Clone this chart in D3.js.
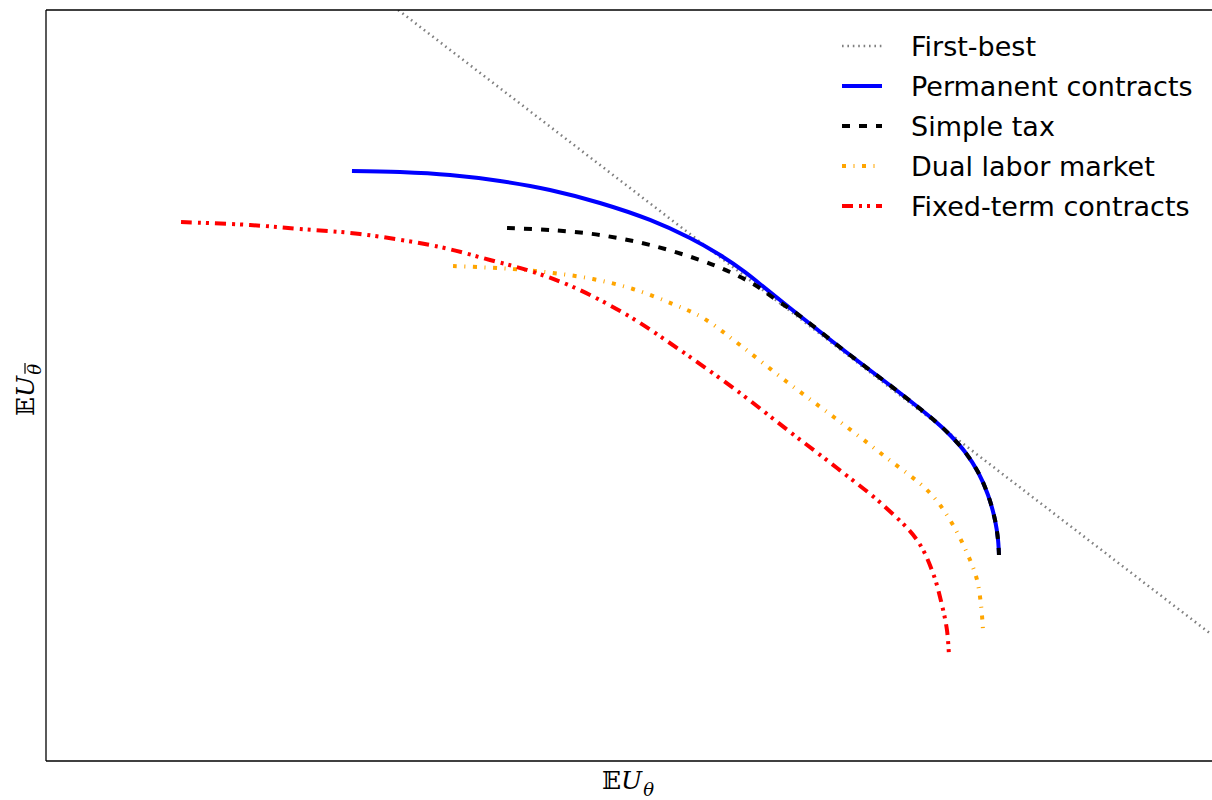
<!DOCTYPE html>
<html>
<head>
<meta charset="utf-8">
<script src="https://cdn.jsdelivr.net/npm/d3@7"></script>
<style>
  body { margin: 0; background: #fff; }
  svg { display: block; }
</style>
</head>
<body>
<svg id="svg"></svg>
<script>
// curves, in axis units (0-100 on both axes)
var firstBest = [[30.2, 100], [100, 16.8]];

var permanent = [[26.24,78.56],[30.36,78.43],[34.65,78.03],[38.94,77.23],[43.22,76.03],
  [47.51,74.30],[51.80,72.04],[55.23,69.64],[57.80,67.38],[59.95,65.11],[61.23,63.52],
  [64.67,59.25],[68.95,54.06],[73.24,49.00],[76.24,45.27],[77.53,43.41],[78.82,41.15],
  [79.93,38.48],[80.79,35.42],[81.39,32.09],[81.65,29.43],[81.73,27.43]];

var simpleTax = [[39.54,70.97],[43.22,70.71],[47.51,70.04],[51.80,68.71],[56.09,66.71],
  [58.66,65.11],[60.81,63.38],[62.52,61.52],[64.67,59.25],[68.95,54.06],[73.24,49.00],
  [76.24,45.27],[77.53,43.41],[78.82,41.15],[79.93,38.48],[80.79,35.42],[81.39,32.09],
  [81.65,29.43],[81.73,27.43]];

var dualMarket = [[34.91,65.91],[40.05,65.51],[43.48,64.98],[46.91,64.18],[50.34,62.85],
  [53.77,60.85],[56.35,58.99],[59.52,55.39],[63.55,50.47],[67.67,45.67],[71.78,40.75],
  [75.81,35.69],[77.79,31.42],[79.25,26.76],[79.85,24.10],[80.19,20.77],[80.36,17.44]];

var fixedTerm = [[11.58,71.77],[17.50,71.37],[21.78,70.84],[26.93,70.17],[33.79,68.44],
  [38.08,66.71],[41.51,65.25],[45.20,63.12],[49.83,59.39],[54.37,54.73],[59.52,49.00],
  [63.81,43.81],[67.84,39.01],[71.78,34.09],[74.70,29.43],[76.07,25.03],[76.84,20.77],
  [77.27,17.44],[77.44,14.11]];

var labels = ["First-best", "Permanent contracts", "Simple tax", "Dual labor market", "Fixed-term contracts"];

var width = 1212, height = 800;
var margin = {left: 46, top: 10, right: 0, bottom: 39};

var series = [
  {name: labels[0], data: firstBest, color: "#808080", w: 2.6, dash: "1.6,3.8", curve: d3.curveLinear},
  {name: labels[1], data: permanent, color: "#0000ff", w: 4, dash: null, curve: d3.curveCatmullRom},
  {name: labels[2], data: simpleTax, color: "#000000", w: 4, dash: "8,9", curve: d3.curveCatmullRom},
  {name: labels[3], data: dualMarket, color: "#ffa500", w: 4, dash: "4,7.5,1,7.5", curve: d3.curveCatmullRom},
  {name: labels[4], data: fixedTerm, color: "#ff0000", w: 4, dash: "11,6,3,5,3,6", curve: d3.curveCatmullRom}
];

var svg = d3.select("#svg")
  .attr("width", width)
  .attr("height", height);

var x = d3.scaleLinear().domain([0, 100]).range([margin.left, width - margin.right]);
var y = d3.scaleLinear().domain([0, 100]).range([height - margin.bottom, margin.top]);

svg.append("defs").append("clipPath")
  .attr("id", "plotclip")
  .append("rect")
  .attr("x", x(0)).attr("y", y(100))
  .attr("width", x(100) - x(0)).attr("height", y(0) - y(100));

var plot = svg.append("g").attr("clip-path", "url(#plotclip)");

series.forEach(function(s){
  var line = d3.line()
    .x(d => x(d[0]))
    .y(d => y(d[1]))
    .curve(s.curve);
  plot.append("path")
    .datum(s.data)
    .attr("d", line)
    .attr("fill", "none")
    .attr("stroke", s.color)
    .attr("stroke-width", s.w)
    .attr("stroke-dasharray", s.dash)
    .attr("stroke-linejoin", "round");
});

// frame: left, top, bottom spines (right one is cut off in the picture)
var frame = svg.append("g")
  .attr("stroke", "black")
  .attr("stroke-width", 1.3)
  .attr("fill", "none");
frame.append("line").attr("x1", x(0)).attr("x2", x(0)).attr("y1", y(0)).attr("y2", y(100));
frame.append("line").attr("x1", x(0)).attr("x2", x(100)).attr("y1", y(100)).attr("y2", y(100));
frame.append("line").attr("x1", x(0)).attr("x2", x(100)).attr("y1", y(0)).attr("y2", y(0));

// legend
var leg = svg.append("g").attr("transform", "translate(842,46)");
var rows = leg.selectAll(".row")
  .data(series)
  .enter()
  .append("g")
  .attr("class", "row")
  .attr("transform", (d,i) => `translate(0,${i*40})`);

rows.append("line")
  .attr("x1", 0).attr("x2", 40)
  .attr("y1", 0).attr("y2", 0)
  .attr("stroke", d => d.color)
  .attr("stroke-width", d => d.w)
  .attr("stroke-dasharray", d => d.dash);

rows.append("text")
  .attr("x", 69)
  .attr("y", 9.5)
  .style("font-family", "DejaVu Sans")
  .style("font-size", "27px")
  .attr("fill", "black")
  .text(d => d.name);

// axis labels: E U with a theta subscript (y one has a bar over theta)
function mathLabel(g, bar){
  var base = g.append("text")
    .attr("x", 0).attr("y", 0)
    .style("font-family", "'DejaVu Serif', 'Liberation Serif', serif")
    .style("font-size", "25px");
  base.append("tspan").text("\u{1D53C}");
  base.append("tspan").style("font-style", "italic").text("U");
  var w0 = base.node().getComputedTextLength();
  var sub = g.append("text")
    .attr("x", w0 + 1).attr("y", 7)
    .style("font-family", "'DejaVu Serif', 'Liberation Serif', serif")
    .style("font-style", "italic")
    .style("font-size", "18px")
    .text("θ");
  var w1 = sub.node().getComputedTextLength();
  if (bar) {
    g.append("line")
      .attr("x1", w0 + 2).attr("x2", w0 + 2 + w1)
      .attr("y1", -9).attr("y2", -9)
      .attr("stroke", "black").attr("stroke-width", 1.2);
  }
  var total = w0 + 1 + w1;
  g.selectAll("text,line").attr("transform", `translate(${-total/2},0)`);
}

mathLabel(svg.append("g").attr("transform", "translate(628,789)"), false);
mathLabel(svg.append("g").attr("transform", "translate(34,390) rotate(-90)"), true);
</script>
</body>
</html>
